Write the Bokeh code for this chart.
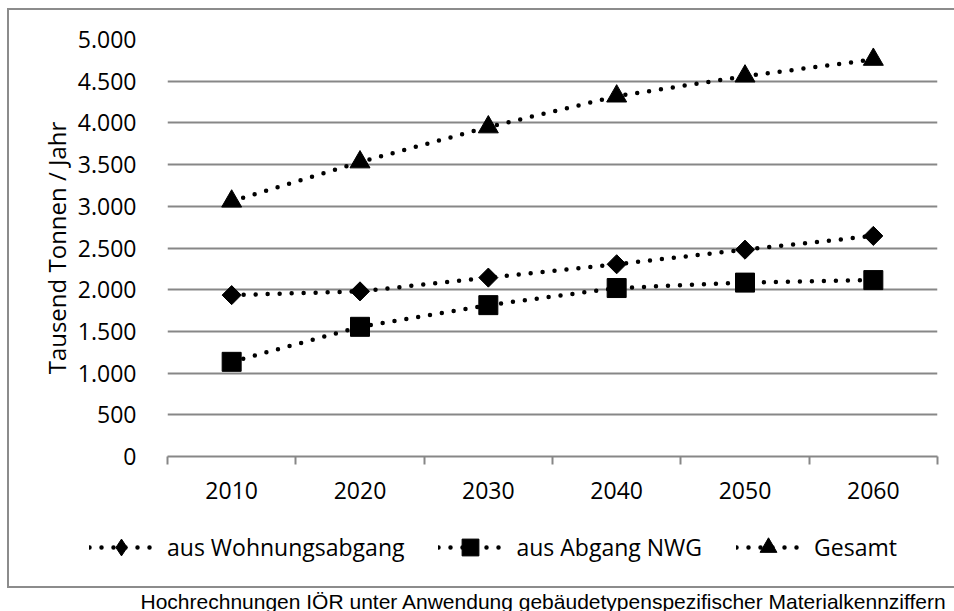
import math
from bokeh.plotting import figure
from bokeh.layouts import column
from bokeh.models import Range1d, FixedTicker, Legend, LegendItem, Label
from bokeh.embed import file_html
from bokeh.resources import INLINE

# ---------------- data ----------------
years = [2010, 2020, 2030, 2040, 2050, 2060]
year_labels = ["2010", "2020", "2030", "2040", "2050", "2060"]
wohnungsabgang = [1935, 1980, 2145, 2305, 2480, 2645]
abgang_nwg = [1135, 1555, 1815, 2020, 2085, 2115]
gesamt = [3060, 3530, 3950, 4320, 4560, 4760]
series_names = ["aus Wohnungsabgang", "aus Abgang NWG", "Gesamt"]
y_ticks = [0, 500, 1000, 1500, 2000, 2500, 3000, 3500, 4000, 4500, 5000]
y_tick_labels = ["0", "500", "1.000", "1.500", "2.000", "2.500", "3.000",
                 "3.500", "4.000", "4.500", "5.000"]
y_axis_title = "Tausend Tonnen / Jahr"
source_note = "Hochrechnungen IÖR unter Anwendung gebäudetypenspezifischer Materialkennziffern"

# ---------------- styling ----------------
FONT = "Open Sans"
FS = "23px"
GRID = "#878787"
BOX = "#8c8c8c"
W = 954
H_MAIN, H_LEG = 515, 96

# ================= main chart =================
p = figure(width=W, height=H_MAIN, output_backend="svg", toolbar_location=None,
           x_range=Range1d(years[0] - 5, years[-1] + 5), y_range=Range1d(0, 5000),
           min_border_left=167, min_border_right=17, min_border_top=39,
           min_border_bottom=59)
p.frame_align = False
p.outline_line_color = None
p.background_fill_color = "white"
p.border_fill_color = None

p.xgrid.grid_line_color = None
p.ygrid.grid_line_color = GRID
p.ygrid.grid_line_width = 2

p.yaxis.ticker = FixedTicker(ticks=y_ticks)
p.yaxis.major_label_overrides = {t: l for t, l in zip(y_ticks, y_tick_labels)}
p.yaxis.axis_line_color = None
p.yaxis.major_tick_line_color = None
p.yaxis.minor_tick_line_color = None
p.yaxis.major_label_standoff = 25
p.yaxis.major_label_text_font = FONT
p.yaxis.major_label_text_font_size = FS
p.yaxis.major_label_text_color = "black"
p.yaxis.axis_label = y_axis_title
p.yaxis.axis_label_text_font = FONT
p.yaxis.axis_label_text_font_size = "24px"
p.yaxis.axis_label_text_font_style = "normal"
p.yaxis.axis_label_text_color = "black"
p.yaxis.axis_label_standoff = 2

boundaries = [y - 5 for y in years] + [years[-1] + 5]
p.xaxis.ticker = FixedTicker(ticks=years, minor_ticks=boundaries)
p.xaxis.major_label_overrides = {t: l for t, l in zip(years, year_labels)}
p.xaxis.axis_line_color = GRID
p.xaxis.axis_line_width = 2
p.xaxis.major_tick_in = 0
p.xaxis.major_tick_out = 0
p.xaxis.major_tick_line_color = None
p.xaxis.minor_tick_in = 0
p.xaxis.minor_tick_out = 8
p.xaxis.minor_tick_line_color = GRID
p.xaxis.minor_tick_line_width = 2
p.xaxis.major_label_standoff = 17
p.xaxis.major_label_text_font = FONT
p.xaxis.major_label_text_font_size = FS
p.xaxis.major_label_text_color = "black"

line_kw = dict(line_color="black", line_width=4.5, line_dash="0 12", line_cap="round")
diamond_kw = dict(marker="square", size=13.5, angle=math.pi / 4,
                  fill_color="black", line_color="black")
square_kw = dict(marker="square", size=19, fill_color="black", line_color="black")
triangle_kw = dict(marker="triangle", size=20, fill_color="black", line_color="black")

p.line(years, wohnungsabgang, **line_kw)
p.line(years, abgang_nwg, **line_kw)
p.line(years, gesamt, **line_kw)
p.scatter(years, wohnungsabgang, **diamond_kw)
p.scatter(years, abgang_nwg, **square_kw)
p.scatter(years, gesamt, **triangle_kw)

# ================= legend + source strip =================
q = figure(width=W, height=H_LEG, output_backend="svg", toolbar_location=None,
           x_axis_type=None, y_axis_type=None,
           x_range=Range1d(years[0] - 5, years[-1] + 5), y_range=Range1d(0, 5000),
           min_border=0, min_border_left=0, min_border_right=0,
           min_border_top=0, min_border_bottom=0)
q.frame_align = False
q.outline_line_color = None
q.background_fill_color = None
q.border_fill_color = None
q.xgrid.visible = False
q.ygrid.visible = False

# legend-only renderers (hidden; the legend draws their samples)
r1 = [q.line(years, wohnungsabgang, visible=False, **line_kw),
      q.scatter(years, wohnungsabgang, marker="diamond", size=18, fill_color="black",
                line_color="black", visible=False)]
r2 = [q.line(years, abgang_nwg, visible=False, **line_kw),
      q.scatter(years, abgang_nwg, visible=False, **square_kw)]
r3 = [q.line(years, gesamt, visible=False, **line_kw),
      q.scatter(years, gesamt, visible=False, **triangle_kw)]

legend = Legend(items=[LegendItem(label=series_names[0], renderers=r1),
                       LegendItem(label=series_names[1], renderers=r2),
                       LegendItem(label=series_names[2], renderers=r3)],
                location=(89, 43), orientation="horizontal",
                glyph_width=64, glyph_height=42, label_height=42,
                label_standoff=14, spacing=34, padding=0, margin=0,
                border_line_color=None, background_fill_alpha=0,
                label_text_font=FONT, label_text_font_size=FS,
                label_text_color="black")
q.add_layout(legend)

note = Label(x=140, y=85.5, x_units="canvas", y_units="canvas", text=source_note,
             text_font="Liberation Sans", text_font_size="21px",
             text_baseline="alphabetic", text_color="black")
q.add_layout(note)

layout = column(p, q, spacing=0)
# outer chart-area frame (its right edge runs off the page, as in the original)
layout.styles = {
    "background": (
        f"linear-gradient({BOX},{BOX}) 7px 8px / 2px 580px no-repeat, "
        f"linear-gradient({BOX},{BOX}) 7px 8px / 980px 2px no-repeat, "
        f"linear-gradient({BOX},{BOX}) 7px 586px / 980px 2px no-repeat, white"
    )
}

open("out.html", "w").write(file_html(layout, INLINE))
